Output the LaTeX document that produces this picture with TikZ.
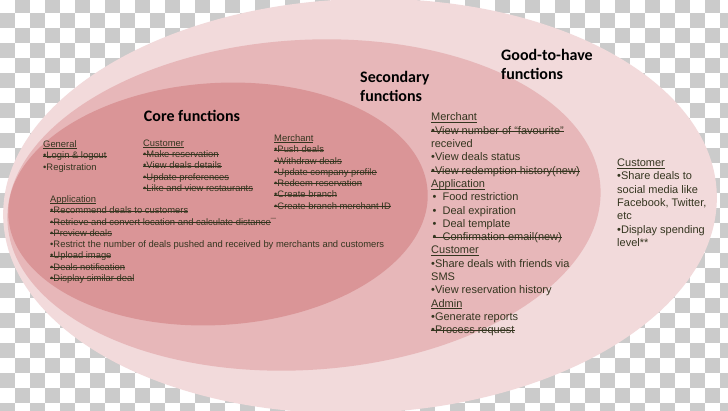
\documentclass[tikz,border=0pt]{standalone}
\usepackage{fontspec}
\setmainfont{Liberation Sans}
\newfontfamily\titlefont{Carlito}
\usetikzlibrary{positioning}
\definecolor{checkgray}{HTML}{CBCBCB}
\definecolor{goodpink}{HTML}{F2DADB}
\definecolor{secpink}{HTML}{E7B7B9}
\definecolor{corepink}{HTML}{DA9597}
\definecolor{txt}{HTML}{34351F}
\newcommand\strk[1]{\leavevmode\setbox0\hbox{#1}\rlap{\rule[0.3em]{\wd0}{0.35pt}}\box0}
\newcommand\undl[1]{\leavevmode\setbox0\hbox{#1}\rlap{\rule[-0.15em]{\wd0}{0.45pt}}\box0}

\begin{document}
\begin{tikzpicture}[
  x=1pt,y=-1pt,
  ttl/.style={font=\titlefont\bfseries\fontsize{16}{19}\selectfont, text=black, align=left, inner sep=0pt},
  corelist/.style={font=\fontsize{9.4}{11.3}\selectfont, text=txt, align=left, inner sep=0pt, anchor=north west},
  seclist/.style={font=\fontsize{11}{13.3}\selectfont, text=txt, align=left, inner sep=0pt, anchor=north west},
]
\useasboundingbox (0,0) rectangle (728,411);
% transparent-background checkerboard
\begin{scope}
\clip (0,0) rectangle (728,411);
\fill[white] (0,0) rectangle (728,411);
\foreach \i in {0,...,48}{\foreach \j in {0,...,27}{\pgfmathtruncatemacro\chk{mod(\i+\j,2)}\ifnum\chk=1 \fill[checkgray] (\i*15,\j*15-2) rectangle ++(15,15);\fi}}
\end{scope}
% nested ellipses
\fill[goodpink, rotate around={2:(360,206)}] (360,206) ellipse [x radius=357, y radius=207];
\fill[secpink, rotate around={3.5:(304,205)}] (304,205) ellipse [x radius=297, y radius=165];
\fill[corepink, rotate around={3.5:(218,204)}] (218,204) ellipse [x radius=210, y radius=121];
% titles
\node[ttl] (coretitle) at (192,116) {Core functions};
\node[ttl, anchor=west] (sectitle) at (360,86.5) {Secondary\\functions};
\node[ttl, anchor=west] (goodtitle) at (501,64.5) {Good-to-have\\functions};
% core functions
\node[corelist] (coregen) at (43,140.4) {\undl{General}\\\strk{•Login \& logout}\\•Registration};
\node[corelist] (corecust) at (143,139.4) {\undl{Customer}\\\strk{•Make reservation}\\\strk{•View deals details}\\\strk{•Update preferences}\\\strk{•Like and view restaurants}};
\node[corelist] (coremerch) at (274,134.4) {\undl{Merchant}\\\strk{•Push deals}\\\strk{•Withdraw deals}\\\strk{•Update company profile}\\\strk{•Redeem reservation}\\\strk{•Create branch}\\\strk{•Create branch merchant ID}};
\node[corelist] (coreapp) at (50,195.4) {\undl{Application}\\\strk{•Recommend deals to customers}\\\strk{•Retrieve and convert location and calculate distance}¯\\\strk{•Preview deals}\\•Restrict the number of deals pushed and received by merchants and customers\\\strk{•Upload image}\\\strk{•Deals notification}\\\strk{•Display similar deal}};
% secondary functions
\node[seclist] (seclist) at (431,112.8) {\undl{Merchant}\\\strk{•View number of “favourite”}\\received\\•View deals status\\\strk{•View redemption history(new)}\\\undl{Application}\\\hspace{1.5pt}•\ \ Food restriction\\\hspace{1.5pt}•\ \ Deal expiration\\\hspace{1.5pt}•\ \ Deal template\\\hspace{1.5pt}\strk{•\ \ Confirmation email(new)}\\\undl{Customer}\\•Share deals with friends via\\SMS\\•View reservation history\\\undl{Admin}\\•Generate reports\\\strk{•Process request}};
% good-to-have functions
\node[seclist] (goodcust) at (617,158.8) {\undl{Customer}\\•Share deals to\\social media like\\Facebook, Twitter,\\etc\\•Display spending\\level**};
\end{tikzpicture}
\end{document}
